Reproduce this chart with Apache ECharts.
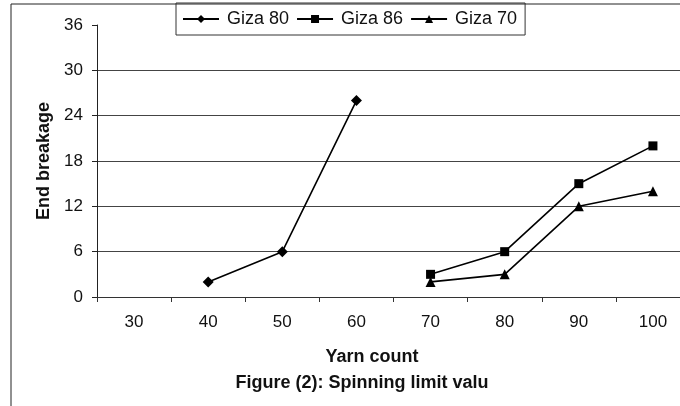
<!DOCTYPE html>
<html>
<head>
<meta charset="utf-8">
<script src="https://cdn.jsdelivr.net/npm/echarts@6/dist/echarts.min.js"></script>
<style>
  html, body { margin: 0; padding: 0; background: #fff; }
  #chart { width: 680px; height: 406px; }
</style>
</head>
<body>
<div id="chart"></div>
<script>
// yarn count categories on the x axis
const yarnCounts = ['30', '40', '50', '60', '70', '80', '90', '100']
// end breakage per variety (null = not tested)
const giza80 = [null, 2, 6, 26, null, null, null, null]
const giza86 = [null, null, null, null, 3, 6, 15, 20]
const giza70 = [null, null, null, null, 2, 3, 12, 14]
const yTicks = [0, 6, 12, 18, 24, 30, 36]

const font = 'Liberation Sans, Arial, sans-serif'
var chart = echarts.init(document.getElementById('chart'))

function lineSeries(name, data, symbol, size) {
  return {
    name: name,
    type: 'line',
    data: data,
    symbol: symbol,
    symbolSize: size,
    connectNulls: false,
    lineStyle: { color: '#000', width: 1.6 },
    itemStyle: { color: '#000' }
  }
}

var option = {
  animation: false,
  backgroundColor: '#fff',
  textStyle: { fontFamily: font },
  // outer frame of the scanned figure
  graphic: [
    {
      type: 'rect',
      shape: { x: 11, y: 4, width: 700, height: 420 },
      style: { fill: 'none', stroke: '#222', lineWidth: 1 }
    },
    {
      type: 'text',
      x: 372, y: 357,
      style: { text: 'Yarn count', font: 'bold 18px ' + font, fill: '#111', align: 'center', verticalAlign: 'middle' }
    },
    {
      type: 'text',
      x: 362, y: 383,
      style: { text: 'Figure (2): Spinning limit valu', font: 'bold 18px ' + font, fill: '#111', align: 'center', verticalAlign: 'middle' }
    }
  ],
  legend: {
    left: 176,
    top: 3,
    padding: [7, 8, 7, 6],
    itemGap: 7,
    itemWidth: 36,
    itemHeight: 10,
    borderColor: '#333',
    borderWidth: 1,
    borderRadius: 0,
    textStyle: { fontSize: 18, color: '#111', fontFamily: font, padding: [0, 0, 0, 3] },
    data: ['Giza 80', 'Giza 86', 'Giza 70']
  },
  grid: { left: 97, top: 25, width: 593, bottom: 109, outerBoundsMode: 'none' },
  xAxis: {
    type: 'category',
    data: yarnCounts,
    boundaryGap: true,
    axisLine: { lineStyle: { color: '#333', width: 1 } },
    axisTick: { show: true, length: 5, lineStyle: { color: '#333' } },
    axisLabel: { fontSize: 17, color: '#111', margin: 17, fontFamily: font },
    splitLine: { show: false }
  },
  yAxis: {
    type: 'value',
    min: yTicks[0],
    max: yTicks[yTicks.length - 1],
    interval: 6,
    name: 'End breakage',
    nameLocation: 'middle',
    nameGap: 43,
    nameTextStyle: { fontSize: 18, fontWeight: 'bold', color: '#111', fontFamily: font },
    axisLine: { show: true, lineStyle: { color: '#222', width: 1 } },
    axisTick: { show: true, length: 5, lineStyle: { color: '#222' } },
    axisLabel: { fontSize: 17, color: '#111', margin: 14, fontFamily: font },
    splitLine: {
      show: true,
      // no gridline at the top value (36)
      lineStyle: { color: ['#444', '#444', '#444', '#444', '#444', '#444', 'transparent'], width: 1 }
    }
  },
  series: [
    lineSeries('Giza 80', giza80, 'diamond', 11),
    lineSeries('Giza 86', giza86, 'rect', 9),
    lineSeries('Giza 70', giza70, 'triangle', 10)
  ]
}
chart.setOption(option)
</script>
</body>
</html>
